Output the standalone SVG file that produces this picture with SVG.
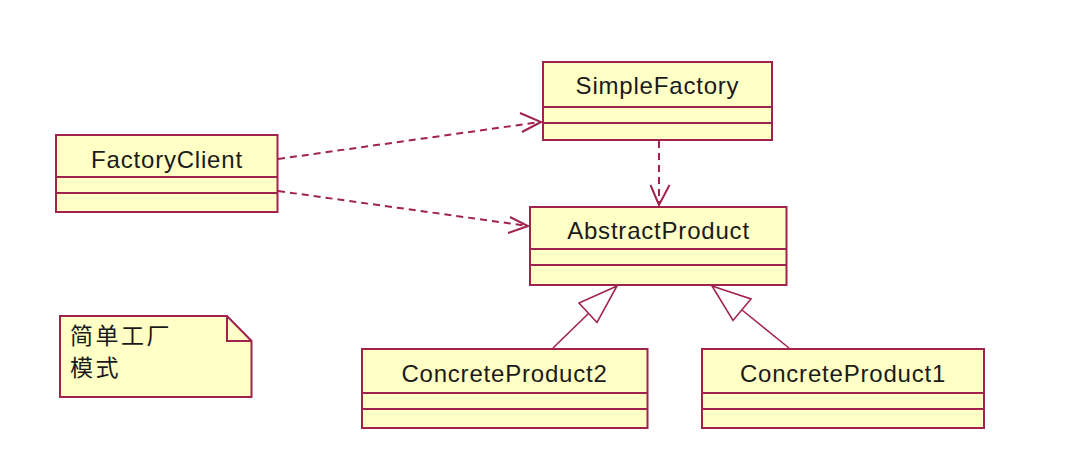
<svg xmlns="http://www.w3.org/2000/svg" width="1084" height="462" viewBox="0 0 1084 462">
<style>
.box{fill:#FFFFC6;stroke:#A0234E;stroke-width:2}
.sep{stroke:#A0234E;stroke-width:2;fill:none}
.lbl{font-family:"Liberation Sans",Arial,sans-serif;font-size:24px;fill:#1a1a1a;text-anchor:middle;letter-spacing:0.8px}
.cjk{font-family:"Noto Sans CJK SC",sans-serif;font-size:23px;fill:#1a1a1a;letter-spacing:2.5px}
.dep{stroke:#A0234E;stroke-width:2;fill:none;stroke-dasharray:7,5}
.head{stroke:#A0234E;stroke-width:2;fill:none}
.gen{stroke:#A0234E;stroke-width:1.6;fill:none}
.tri{stroke:#A0234E;stroke-width:1.6;fill:#FFFFFF}
</style>
<rect width="1084" height="462" fill="#FFFFFF"/>
<g id="connectors">
<line class="dep" x1="278" y1="159" x2="540" y2="122"/>
<polyline class="head" points="520,113 541,122 522,132"/>
<line class="dep" x1="278" y1="191" x2="528" y2="226"/>
<polyline class="head" points="510,217 528,226 508,233"/>
<line class="dep" x1="659" y1="141" x2="659" y2="205"/>
<polyline class="head" points="650.5,185 659,205 669.5,185"/>
<line class="gen" x1="553" y1="348" x2="589" y2="313"/>
<polygon class="tri" points="617,286 579,303 597,322.5"/>
<line class="gen" x1="789" y1="348" x2="742" y2="310"/>
<polygon class="tri" points="712,286 751,299 733,320.5"/>
</g>
<g id="SimpleFactory">
<rect class="box" x="543" y="62" width="229" height="78"/>
<line class="sep" x1="543" y1="107" x2="772" y2="107"/>
<line class="sep" x1="543" y1="123" x2="772" y2="123"/>
<text class="lbl" x="657.5" y="93.5">SimpleFactory</text>
</g>
<g id="FactoryClient">
<rect class="box" x="56" y="135" width="221.5" height="77"/>
<line class="sep" x1="56" y1="177" x2="277.5" y2="177"/>
<line class="sep" x1="56" y1="193" x2="277.5" y2="193"/>
<text class="lbl" x="167" y="167.5">FactoryClient</text>
</g>
<g id="AbstractProduct">
<rect class="box" x="530" y="207" width="256.5" height="78"/>
<line class="sep" x1="530" y1="249" x2="786.5" y2="249"/>
<line class="sep" x1="530" y1="265" x2="786.5" y2="265"/>
<text class="lbl" x="658.5" y="239">AbstractProduct</text>
</g>
<g id="ConcreteProduct2">
<rect class="box" x="362" y="349" width="285.5" height="79"/>
<line class="sep" x1="362" y1="393" x2="647.5" y2="393"/>
<line class="sep" x1="362" y1="409" x2="647.5" y2="409"/>
<text class="lbl" x="504.5" y="382">ConcreteProduct2</text>
</g>
<g id="ConcreteProduct1">
<rect class="box" x="702" y="349" width="282" height="79"/>
<line class="sep" x1="702" y1="393" x2="984" y2="393"/>
<line class="sep" x1="702" y1="409" x2="984" y2="409"/>
<text class="lbl" x="843" y="382">ConcreteProduct1</text>
</g>
<g id="note">
<polygon class="box" points="60,316 227,316 251.5,341 251.5,397 60,397"/>
<polyline class="sep" points="227,316 227,341 251.5,341"/>
<text class="cjk" x="70" y="344">简单工厂</text>
<text class="cjk" x="70" y="376">模式</text>
</g>
</svg>
